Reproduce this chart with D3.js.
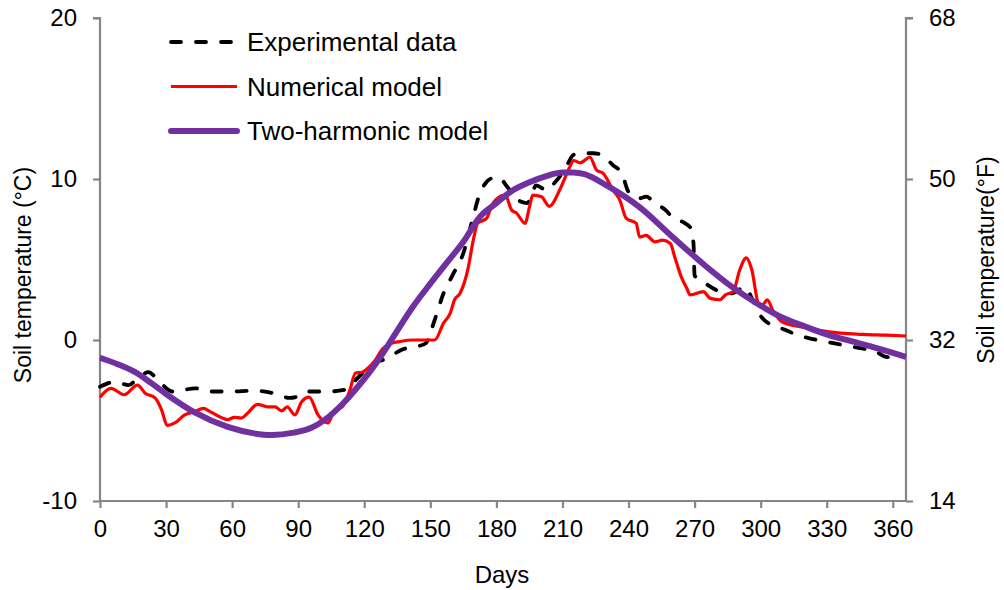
<!DOCTYPE html>
<html>
<head>
<meta charset="utf-8">
<script src="https://cdnjs.cloudflare.com/ajax/libs/d3/7.8.5/d3.min.js"></script>
<style>
  body { margin: 0; background: #fff; }
  text { font-family: "Liberation Sans", Arial, sans-serif; fill: #000; }
</style>
</head>
<body>
<div id="chart"></div>
<script>
// values: [day, degC]
var experimental = [[0,-2.9],[7,-2.6],[13,-2.8],[17,-2.4],[22,-2.0],[27,-2.6],[33,-3.2],[38,-3.1],[43,-3.0],[50,-3.2],[60,-3.2],[69,-3.15],[75,-3.2],[81,-3.4],[86,-3.6],[90,-3.5],[94,-3.2],[103,-3.2],[111,-3.1],[116,-2.5],[123,-1.55],[131,-1.1],[137,-0.6],[144,-0.4],[148,-0.2],[150,0.45],[152,1.25],[156,2.9],[160,4.0],[165,5.4],[169,7.4],[172,8.9],[178,10.05],[181,10.1],[185,9.5],[188,9.0],[191,8.6],[194,8.5],[196,9.0],[198,9.6],[203,9.3],[206,9.7],[209,10.2],[212,10.85],[215,11.5],[218,11.6],[224,11.6],[228,11.5],[233,10.85],[237,10.35],[240,9.2],[245,8.8],[248,8.9],[252,8.5],[257,8.05],[260,7.6],[265,7.3],[268,7.0],[269.5,6.0],[270,4.0],[274,3.6],[280,3.1],[287,2.9],[293,3.3],[296,2.6],[300,1.5],[304,1.0],[309,0.75],[318,0.25],[324,0.05],[333,-0.2],[345,-0.5],[352,-0.7],[357,-1.05],[363,-1.1]];

var numerical = [[0,-3.55],[5,-3.0],[11,-3.4],[17,-2.8],[20.5,-3.3],[25,-3.6],[28,-4.35],[30.5,-5.3],[34,-5.15],[38.5,-4.65],[43,-4.45],[47,-4.25],[50,-4.45],[55.5,-4.85],[58,-4.95],[61,-4.8],[64,-4.85],[67,-4.55],[71.5,-4.0],[76,-4.15],[79.5,-4.15],[82.5,-4.4],[85,-4.15],[88.5,-4.65],[91.5,-3.85],[95,-3.55],[99,-4.65],[103.5,-5.15],[106.5,-4.35],[110,-4.15],[113.5,-3.1],[116,-2.05],[119,-2.0],[122,-1.7],[125,-1.25],[128,-0.6],[132.5,-0.2],[136,-0.1],[142,0.0],[152,0.0],[156,1.05],[159,1.65],[161,2.5],[163.5,2.9],[167,4.35],[169.5,6.2],[171.5,7.25],[175.5,7.55],[178,8.4],[180,8.75],[184,9.0],[187,8.05],[189,7.9],[193,7.25],[195,8.25],[196.5,9.0],[200.5,8.9],[204,8.3],[209,9.4],[213,10.65],[215,11.15],[218,11.0],[222.5,11.35],[225.5,10.55],[228.5,10.35],[233,9.3],[236,8.7],[239,7.55],[243.5,7.25],[245,6.4],[248,6.5],[252,6.1],[255.5,6.2],[259,6.0],[261,5.15],[264,3.9],[266.5,3.2],[268,2.8],[274,3.0],[277,2.6],[281.5,2.5],[284,2.8],[287.5,3.0],[290.5,4.35],[293.5,5.1],[296,4.35],[299,2.3],[301,2.2],[303,2.5],[305.5,1.85],[310,1.1],[321,0.75],[331,0.5],[346,0.35],[357,0.3],[366,0.25]];

var twoHarmonic = [[0,-1.1],[8,-1.5],[16,-2.0],[23,-2.65],[30,-3.35],[43,-4.5],[58,-5.4],[70,-5.8],[78,-5.9],[88,-5.75],[96,-5.45],[104,-4.75],[111,-3.85],[118,-2.75],[124,-1.7],[130,-0.5],[136,0.8],[142,2.05],[150,3.5],[157.5,4.8],[165,6.1],[172.5,7.65],[180,8.5],[187.5,9.3],[195,9.8],[203,10.2],[210,10.4],[215,10.4],[220,10.3],[230,9.6],[245,8.25],[260,6.4],[275,4.6],[287,3.3],[298,2.3],[309,1.45],[320,0.85],[331,0.3],[342,-0.1],[354,-0.55],[366,-1.05]];

var dayTicks = [0,30,60,90,120,150,180,210,240,270,300,330,360];
var celsiusTicks = [-10,0,10,20];
var fahrenheitTicks = [14,32,50,68];
var legendNames = ["Experimental data","Numerical model","Two-harmonic model"];

var axisColor = "#868686";

var svg = d3.select("#chart").append("svg").attr("width", 1004).attr("height", 590);

var x = d3.scaleLinear().domain([0, 366]).range([100, 906]);
var y = d3.scaleLinear().domain([-10, 20]).range([501, 18]);
var yF = d3.scaleLinear().domain([14, 68]).range([501, 18]);

var plain = function(d) { return String(d); };

// axes
var gx = svg.append("g").attr("transform", "translate(0,501)")
  .call(d3.axisBottom(x).tickValues(dayTicks).tickSize(7).tickPadding(12).tickFormat(plain));
var gy = svg.append("g").attr("transform", "translate(100,0)")
  .call(d3.axisLeft(y).tickValues(celsiusTicks).tickSize(7).tickPadding(16).tickFormat(plain));
var gr = svg.append("g").attr("transform", "translate(906,0)")
  .call(d3.axisRight(yF).tickValues(fahrenheitTicks).tickSize(7).tickPadding(16).tickFormat(plain));

[gx, gy, gr].forEach(function(g) {
  g.select(".domain").attr("stroke", axisColor).attr("stroke-width", 2.2);
  g.selectAll(".tick line").attr("stroke", axisColor).attr("stroke-width", 2.2);
  g.selectAll(".tick text").style("font-size", "24px").style("font-family", "Liberation Sans, Arial, sans-serif").attr("fill", "#000");
});
// excel style: no outer tick ends on the bottom axis
gx.select(".domain").attr("d", "M100,0H906");
gy.select(".domain").attr("d", "M-7,18H0V501");
gr.select(".domain").attr("d", "M7,18H0V501");

// lines
var line = d3.line().x(function(d) { return x(d[0]); }).y(function(d) { return y(d[1]); }).curve(d3.curveMonotoneX);

svg.append("path").datum(experimental).attr("d", line)
  .attr("fill", "none").attr("stroke", "#000").attr("stroke-width", 3.8)
  .attr("stroke-dasharray", "10,15").attr("stroke-linecap", "round");
svg.append("path").datum(numerical).attr("d", line)
  .attr("fill", "none").attr("stroke", "#ff0000").attr("stroke-width", 3.2).attr("stroke-linejoin", "round");
svg.append("path").datum(twoHarmonic).attr("d", line)
  .attr("fill", "none").attr("stroke", "#7030a0").attr("stroke-width", 6);

// legend
var legendStyles = [
  {stroke: "#000", width: 3.8, dash: "10,15", cap: "round"},
  {stroke: "#ff0000", width: 3.2, dash: null, cap: "butt"},
  {stroke: "#7030a0", width: 6, dash: null, cap: "round"}
];
var legend = svg.append("g").selectAll("g").data(legendNames).enter().append("g")
  .attr("transform", function(d, i) { return "translate(0," + (42 + i * 44.5) + ")"; });
legend.append("line").attr("x1", 171).attr("x2", 237).attr("y1", 0).attr("y2", 0)
  .attr("stroke", function(d, i) { return legendStyles[i].stroke; })
  .attr("stroke-width", function(d, i) { return legendStyles[i].width; })
  .attr("stroke-dasharray", function(d, i) { return legendStyles[i].dash; })
  .attr("stroke-linecap", function(d, i) { return legendStyles[i].cap; });
legend.append("text").attr("x", 247).attr("y", 9).style("font-size", "26px").text(function(d) { return d; });

// axis titles
svg.append("text").attr("x", 502).attr("y", 583).attr("text-anchor", "middle").style("font-size", "24px").text("Days");
svg.append("text").attr("transform", "translate(31,275) rotate(-90)").attr("text-anchor", "middle").style("font-size", "23px").text("Soil temperature (°C)");
svg.append("text").attr("transform", "translate(994,260) rotate(-90)").attr("text-anchor", "middle").style("font-size", "23px").text("Soil temperature(°F)");
</script>
</body>
</html>
